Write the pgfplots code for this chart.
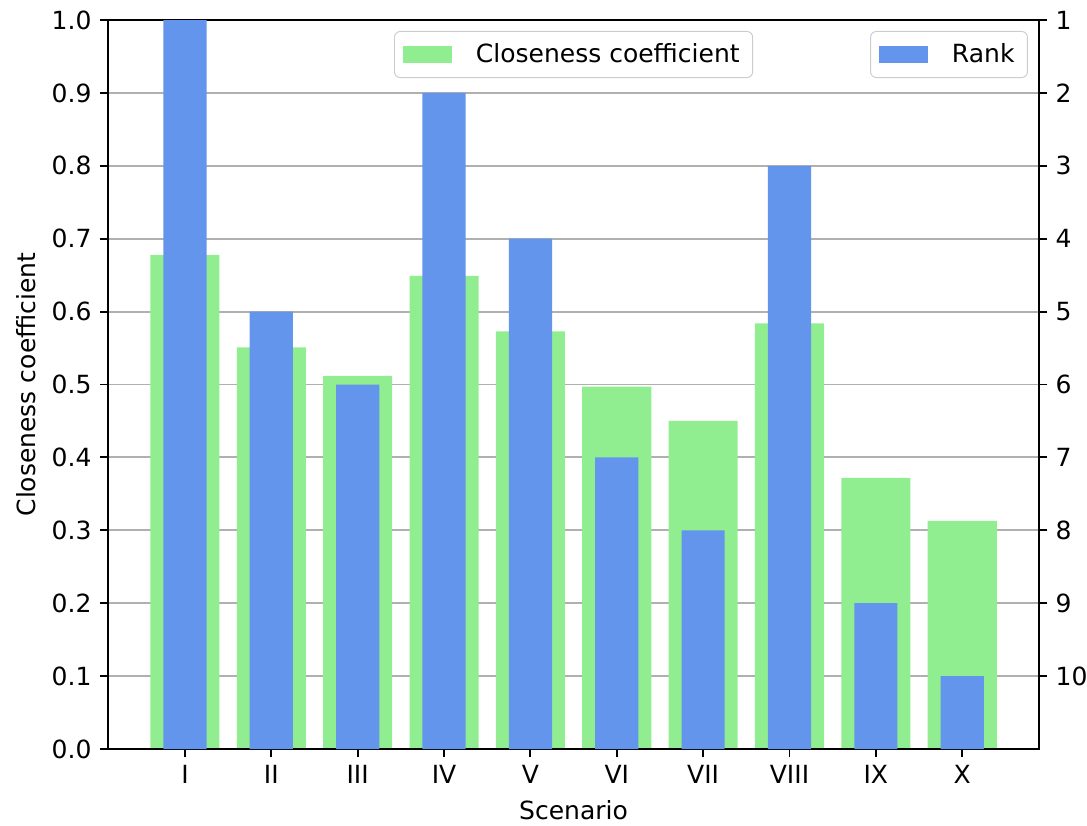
\documentclass[border=0pt]{standalone}
\usepackage{fontspec}
\setmainfont{DejaVu Sans}
\usepackage{pgfplots}
\pgfplotsset{compat=1.18}
\usepackage{pgfplotstable}
\definecolor{lgreen}{HTML}{90EE90}
\definecolor{cblue}{HTML}{6495ED}
\newcommand{\fs}{\fontsize{10.6pt}{12.7pt}\selectfont}
\pgfplotstableread{
x cc rank
1 0.678 1
2 0.551 5
3 0.512 6
4 0.649 2
5 0.573 4
6 0.497 7
7 0.450 8
8 0.584 3
9 0.372 9
10 0.313 10
}\data
\pgfplotsset{
  common/.style={
    scale only axis, width=394.5pt, height=308.9pt,
    at={(45.8pt,32.2pt)}, anchor=south west,
    xmin=0.11, xmax=10.89,
    axis line style={line width=0.8pt},
    tick style={line width=0.8pt, black},
    major tick length=3.5pt, tick align=outside,
    /pgf/number format/assume math mode=true,
    tick label style={font=\fs},
    label style={font=\fs},
    legend image code/.code={\fill[##1,sharp corners] (0pt,-3.7pt) rectangle (21pt,3.7pt); \path (29pt,0pt);},
    legend style={draw=black!20, rounded corners=2.5pt, inner xsep=3.5pt, inner ysep=3pt,
      nodes={inner sep=2pt}, font=\fs},
  }
}
\begin{document}
\begin{tikzpicture}
\useasboundingbox (0,0) rectangle (460.6pt,349.6pt);
\begin{axis}[common,
  ymin=0, ymax=1,
  xtick={1,...,10},
  xticklabels={I,II,III,IV,V,VI,VII,VIII,IX,X},
  xtick pos=bottom, ytick pos=left,
  ytick={0,0.1,...,1.0},
  yticklabels={0.0,0.1,0.2,0.3,0.4,0.5,0.6,0.7,0.8,0.9,1.0},
  ymajorgrids, grid style={line width=0.8pt, color=black!31},
  xlabel={Scenario}, ylabel={Closeness coefficient},
  legend style={at={(0.5,0.985)}, anchor=north},
]
\addplot[ybar, bar width=0.8, bar shift=0pt, fill=lgreen, draw=none] table[x=x,y=cc]{\data};
\addlegendentry{Closeness coefficient}
\end{axis}
\begin{axis}[common,
  ymin=0, ymax=10,
  xtick=\empty, ytick pos=right,
  ytick={1,...,10},
  yticklabels={10,9,8,7,6,5,4,3,2,1},
  legend style={at={(0.988,0.985)}, anchor=north east},
]
\addplot[ybar, bar width=0.5, bar shift=0pt, fill=cblue, draw=none] table[x=x,y expr=11-\thisrow{rank}]{\data};
\addlegendentry{Rank}
\end{axis}
\end{tikzpicture}
\end{document}
